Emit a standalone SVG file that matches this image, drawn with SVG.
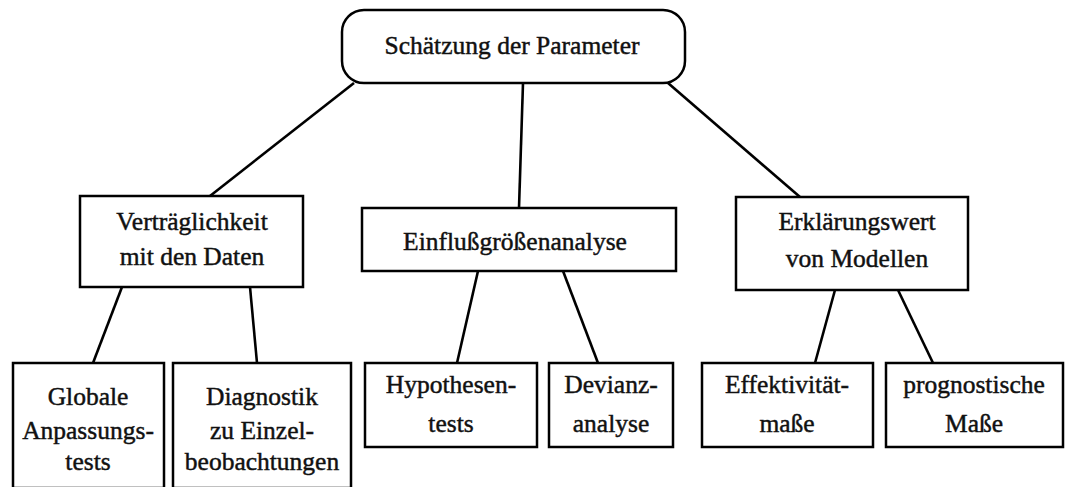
<svg xmlns="http://www.w3.org/2000/svg" width="1066" height="487" viewBox="0 0 1066 487">
<style>
.box{fill:#fff;stroke:#000;stroke-width:2.5}
.lbl{font-family:"Liberation Serif","Times New Roman",serif;font-size:25.5px;fill:#111;stroke:#111;stroke-width:0.45;text-anchor:middle}
.c line{stroke:#000;stroke-width:2.6}
</style>
<rect width="1066" height="487" fill="#fff"/>
<g class="c" id="connectors">
<line x1="354" y1="83" x2="210" y2="196"/>
<line x1="523" y1="83" x2="519" y2="208"/>
<line x1="668" y1="83" x2="800" y2="197"/>
<line x1="122" y1="287" x2="93" y2="363"/>
<line x1="250" y1="287" x2="257" y2="363"/>
<line x1="478" y1="271" x2="457" y2="363"/>
<line x1="563" y1="271" x2="598" y2="363"/>
<line x1="835" y1="290" x2="815" y2="363"/>
<line x1="898" y1="290" x2="933" y2="363"/>
</g>
<g id="n-root"><rect class="box" x="342" y="10" width="343" height="73" rx="22"/><text class="lbl" x="512" y="54">Schätzung der Parameter</text></g>
<g id="n-vertr"><rect class="box" x="80" y="196" width="223" height="91"/><text class="lbl" x="192" y="230">Verträglichkeit</text><text class="lbl" x="192" y="265">mit den Daten</text></g>
<g id="n-einfl"><rect class="box" x="362" y="208" width="314" height="63"/><text class="lbl" x="515" y="250">Einflußgrößenanalyse</text></g>
<g id="n-erkl"><rect class="box" x="736" y="197" width="232" height="93"/><text class="lbl" x="857" y="230">Erklärungswert</text><text class="lbl" x="857" y="267">von Modellen</text></g>
<g id="n-glob"><rect class="box" x="13" y="363" width="151" height="125"/><text class="lbl" x="88" y="405">Globale</text><text class="lbl" x="88" y="439">Anpassungs-</text><text class="lbl" x="88" y="470">tests</text></g>
<g id="n-diag"><rect class="box" x="173" y="363" width="178" height="125"/><text class="lbl" x="262" y="405">Diagnostik</text><text class="lbl" x="262" y="439">zu Einzel-</text><text class="lbl" x="262" y="470">beobachtungen</text></g>
<g id="n-hyp"><rect class="box" x="365" y="363" width="172" height="84"/><text class="lbl" x="451" y="393">Hypothesen-</text><text class="lbl" x="451" y="432">tests</text></g>
<g id="n-dev"><rect class="box" x="549" y="363" width="124" height="84"/><text class="lbl" x="611" y="393">Devianz-</text><text class="lbl" x="611" y="432">analyse</text></g>
<g id="n-eff"><rect class="box" x="702" y="363" width="171" height="84"/><text class="lbl" x="787" y="393">Effektivität-</text><text class="lbl" x="787" y="432">maße</text></g>
<g id="n-prog"><rect class="box" x="886" y="363" width="177" height="84"/><text class="lbl" x="974" y="393">prognostische</text><text class="lbl" x="974" y="432">Maße</text></g>
</svg>
